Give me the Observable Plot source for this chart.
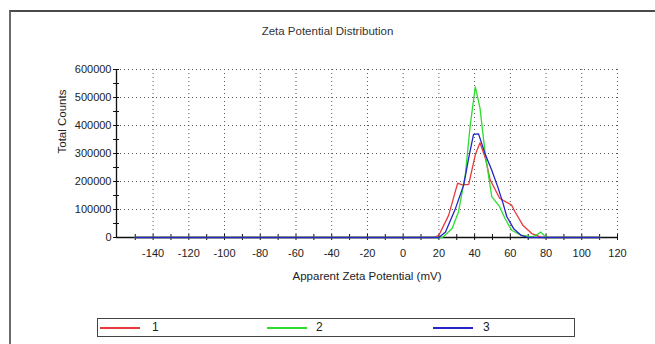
<!DOCTYPE html>
<html>
<head>
<meta charset="utf-8">
<script src="https://cdn.jsdelivr.net/npm/d3@7"></script>
<script src="https://cdn.jsdelivr.net/npm/@observablehq/plot@0.6"></script>
<style>
  html, body { margin: 0; padding: 0; background: #fff; }
  #wrap { position: relative; width: 655px; height: 344px; overflow: hidden; font-family: "Liberation Sans", Arial, sans-serif; color: #222; }
  #frame { position: absolute; left: 9px; top: 10px; width: 700px; height: 400px; border-left: 2px solid #6a6a6a; border-top: 2px solid #4a4a4a; }
  #title { position: absolute; left: 0; width: 655px; top: 25px; text-align: center; font-size: 11.5px; color: #333; }
  #chart { position: absolute; left: 0; top: 0; }
  #legend { position: absolute; left: 97px; top: 318px; width: 476px; height: 17px; border: 1.5px solid #444; font-size: 12px; }
  .ln { position: absolute; top: 8px; height: 1.5px; }
  .lt { position: absolute; top: 1px; }
</style>
</head>
<body>
<div id="wrap">
  <div id="frame"></div>
  <div id="chart"></div>
  <div id="title">Zeta Potential Distribution</div>
  <div id="legend"></div>
</div>
<script>
// ---- data ----
const seriesNames = ["1", "2", "3"];
const seriesColors = ["#e8383c", "#2edc2e", "#2424c8"];

const s1x = [-150, 17, 20, 25.5, 30.5, 33, 36.7, 40.4, 43, 46, 48.7, 54, 60.7, 62.6, 67, 72, 76.5, 78, 110];
const s1y = [0, 0, 8000, 80000, 194000, 188000, 190000, 296000, 338000, 284000, 206000, 140000, 116000, 92000, 44000, 14000, 3000, 0, 0];

const s2x = [-150, 22, 27.4, 31, 34.8, 37.6, 40.4, 43, 46, 49.6, 54, 57, 60.7, 66, 72, 74.5, 77, 80, 110];
const s2y = [0, 0, 32000, 92000, 224000, 404000, 538000, 463000, 296000, 146000, 110000, 68000, 26000, 8000, 2000, 8000, 20000, 0, 0];

const s3x = [-150, 20, 23.7, 29.3, 33.9, 36.7, 39.4, 42.2, 46, 49.6, 53, 56, 58, 62, 66, 70, 110];
const s3y = [0, 0, 20000, 104000, 188000, 284000, 368000, 370000, 296000, 240000, 180000, 120000, 75000, 30000, 8000, 0, 0];

const xDomain = [-160.5, 120];
const yDomain = [0, 600000];
const xTickLabels = [-140, -120, -100, -80, -60, -40, -20, 0, 20, 40, 60, 80, 100, 120];
const xMinorTicks = [-150, -140, -130, -120, -110, -100, -90, -80, -70, -60, -50, -40, -30, -20, -10, 0, 10, 20, 30, 40, 50, 60, 70, 80, 90, 100, 110, 120];
const yTickLabels = [0, 100000, 200000, 300000, 400000, 500000, 600000];
const yMinorTicks = [0, 50000, 100000, 150000, 200000, 250000, 300000, 350000, 400000, 450000, 500000, 550000, 600000];
const yGrid = [100000, 200000, 300000, 400000, 500000, 600000];
const xLabel = "Apparent Zeta Potential (mV)";
const yLabel = "Total Counts";

const rows = [];
[[s1x, s1y], [s2x, s2y], [s3x, s3y]].forEach(([xs, ys], i) => {
  xs.forEach((x, j) => rows.push({series: seriesNames[i], x, y: ys[j]}));
});

const plain = d => String(d);

const chart = Plot.plot({
  width: 655,
  height: 344,
  marginLeft: 116,
  marginRight: 38,
  marginTop: 69,
  marginBottom: 107,
  style: {fontFamily: "'Liberation Sans', Arial, sans-serif", fontSize: "11px", color: "#222", background: "transparent", overflow: "visible"},
  x: {domain: xDomain},
  y: {domain: yDomain},
  color: {domain: seriesNames, range: seriesColors},
  marks: [
    Plot.gridX({ticks: xTickLabels, stroke: "#555", strokeOpacity: 1, strokeDasharray: "1,3"}),
    Plot.gridY({ticks: yGrid, stroke: "#555", strokeOpacity: 1, strokeDasharray: "1,3"}),
    Plot.ruleY([yDomain[0]], {stroke: "#111", strokeWidth: 1.3}),
    Plot.ruleX([xDomain[0]], {stroke: "#111", strokeWidth: 1.3}),
    Plot.axisX({ticks: xMinorTicks, tickSize: 6, dy: -3, tickFormat: () => "", label: null, stroke: "#111"}),
    Plot.axisY({ticks: yMinorTicks, tickSize: 6, dx: 3, tickFormat: () => "", label: null, stroke: "#111"}),
    Plot.axisX({ticks: xTickLabels, tickSize: 0, tickPadding: 12, tickFormat: plain, label: null, fill: "#222"}),
    Plot.axisY({ticks: yTickLabels, tickSize: 0, tickPadding: 5, tickFormat: plain, label: null, fill: "#222"}),
    Plot.line(rows, {x: "x", y: "y", z: "series", stroke: "series", strokeWidth: 1.3, curve: "linear"}),
    Plot.text([xLabel], {frameAnchor: "bottom", dy: 42, fontSize: 11.5, fill: "#222"}),
    Plot.text([yLabel], {frameAnchor: "left", rotate: -90, dx: -54, fontSize: 11.5, fill: "#222"})
  ]
});
document.getElementById("chart").appendChild(chart);

// legend built from the same series arrays
const legend = document.getElementById("legend");
const legendPos = [[2, 54], [169, 218], [335, 385]];
seriesNames.forEach((name, i) => {
  const ln = document.createElement("div");
  ln.className = "ln";
  ln.style.left = legendPos[i][0] + "px";
  ln.style.width = "40px";
  ln.style.background = seriesColors[i];
  legend.appendChild(ln);
  const t = document.createElement("div");
  t.className = "lt";
  t.style.left = legendPos[i][1] + "px";
  t.textContent = name;
  legend.appendChild(t);
});
</script>
</body>
</html>
